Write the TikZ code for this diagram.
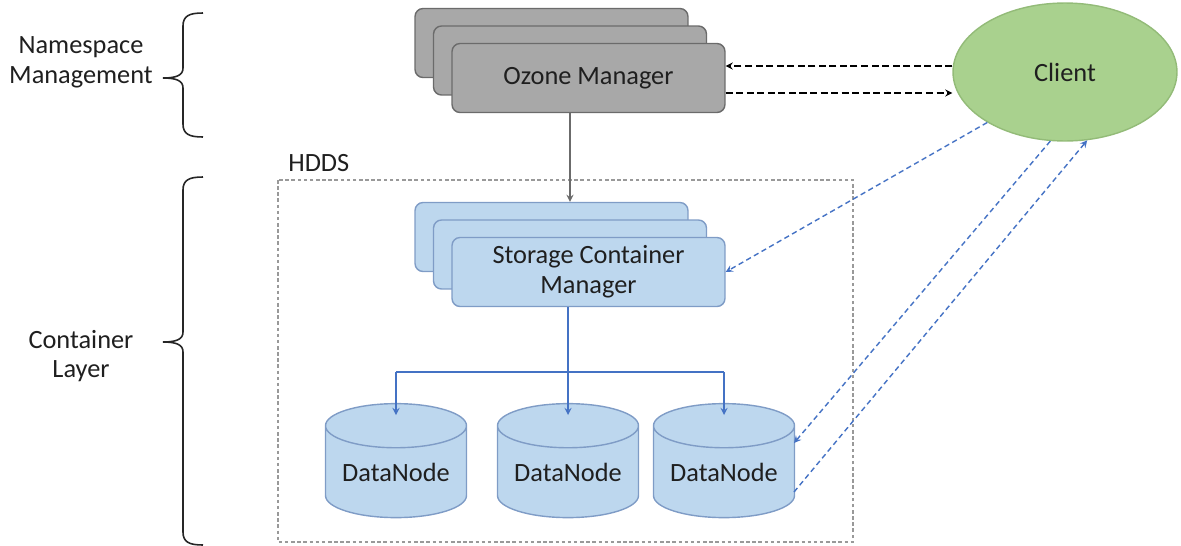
\documentclass[tikz,border=0pt]{standalone}
\usepackage{fontspec}
\setmainfont{Carlito}
\usepackage{xcolor}
\usetikzlibrary{calc, shapes.geometric}

\definecolor{omfill}{HTML}{A8A8A8}
\definecolor{omdraw}{HTML}{6B6B6B}
\definecolor{scmfill}{HTML}{BDD7EE}
\definecolor{scmdraw}{HTML}{7F9CC6}
\definecolor{clientfill}{HTML}{A9D18E}
\definecolor{clientdraw}{HTML}{93BB78}
\definecolor{linkblue}{HTML}{4472C4}

\begin{document}
\begin{tikzpicture}[x = 0.02cm, y = -0.02cm,
	txt/.style = {font = \fontsize{15}{17}\selectfont, text = black!88},
	stackbox/.style = {txt, rectangle, rounded corners = 0.16cm, line width = 0.8pt, minimum width = 5.46cm, minimum height = 1.38cm, inner sep = 0pt, align = center},
	ombox/.style = {stackbox, draw = omdraw, fill = omfill},
	scmbox/.style = {stackbox, draw = scmdraw, fill = scmfill},
	dnbox/.style = {txt, shape = cylinder, shape border rotate = 90, aspect = 0.41, draw = scmdraw, fill = scmfill, line width = 0.8pt, minimum width = 2.82cm, minimum height = 2.28cm, inner sep = 0pt},
	clientbox/.style = {txt, ellipse, draw = clientdraw, fill = clientfill, line width = 0.8pt, minimum width = 4.48cm, minimum height = 2.76cm, inner sep = 0pt},
	layerbrace/.style = {line width = 0.9pt, black!85}]
							\useasboundingbox (0,0) rectangle (1181,545);
				
							\node (nslabel) [txt, align = center] at (81,62) {Namespace\\Management};
							\node (cllabel) [txt, align = center] at (81,356) {Container\\Layer};
				
							\foreach \top/\tip/\bot in {13/78/137, 177/342/545}
							{
								\draw [layerbrace] (203,\top) .. controls (189,\top) and (183,{\top+3}) .. (183,{\top+13})
									-- (183,{\tip-10}) .. controls (183,{\tip-3}) and (177,\tip) .. (163,\tip)
									.. controls (177,\tip) and (183,{\tip+3}) .. (183,{\tip+10})
									-- (183,{\bot-13}) .. controls (183,{\bot-3}) and (189,\bot) .. (203,\bot);
							}
				
							\draw [gray!80, line width = 0.6pt, dash pattern = on 2pt off 1.5pt] (278,180) rectangle (853,542);
							\node (hddslabel) [txt, anchor = west, inner sep = 0pt] at (288,163) {HDDS};
				
							\foreach \i/\txt in {0/{},1/{},2/{Ozone Manager}}
							{
								\node (om\i) [ombox] at ({551.5+18.5*\i},{43+17.5*\i}) {\txt};
							}
				
							\foreach \i/\txt in {0/{},1/{},2/{Storage Container\\Manager}}
							{
								\node (scm\i) [scmbox] at ({551.5+18.5*\i},{237+17.5*\i}) {\txt};
							}
				
							\foreach \n/\x in {1/396,2/568,3/724}
							{
								\node (dn\n) [dnbox] at (\x,472) {DataNode};
							}
				
							\node (client) [clientbox] at (1065,72) {Client};
				
							\coordinate (bus) at (568,372);
							\coordinate (omin) at ([yshift = 0.24cm]om2.east);
							\coordinate (omout) at ([yshift = -0.3cm]om2.east);
				
							\begin{scope}[-stealth, line width = 0.8pt]
								\draw [omdraw] (om1 |- om2.south) -- (om1 |- scm0.north);
								\draw [linkblue] (dn2 |- scm2.south) -- ($(dn2.center)+(0,-57)$);
								\draw [linkblue, -] (bus -| dn1) -- (bus -| dn3);
								\draw [linkblue] (bus -| dn1) -- ($(dn1.center)+(0,-57)$);
								\draw [linkblue] (bus -| dn3) -- ($(dn3.center)+(0,-57)$);
				
								\draw [black, dash pattern = on 4pt off 2pt] (omin -| client.west) -- (omin);
								\draw [black, dash pattern = on 4pt off 2pt] (omout) -- (omout -| client.west);
				
								\draw [linkblue, dash pattern = on 3pt off 2pt] (client.213) -- (scm2.east);
								\draw [linkblue, dash pattern = on 3pt off 2pt] (client.258) -- ($(dn3.center)+(70,-29)$);
								\draw [linkblue, dash pattern = on 3pt off 2pt] ($(dn3.center)+(70,20)$) -- (client.288);
							\end{scope}
						\end{tikzpicture}
\end{document}
